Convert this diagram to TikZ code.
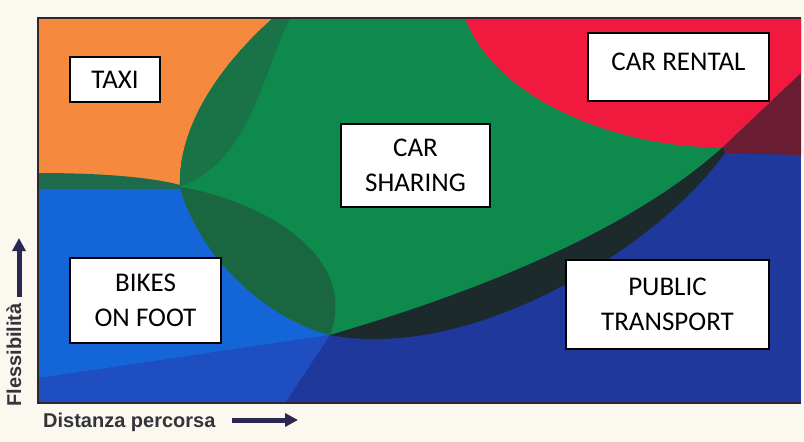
\documentclass[tikz,border=0pt]{standalone}
\usepackage{fontspec}
\setmainfont{Carlito}
\newfontfamily\axisfont{Liberation Sans}
\usetikzlibrary{arrows.meta}
\definecolor{cream}{HTML}{FAF8EF}
\definecolor{taxiorange}{HTML}{F58A3E}
\definecolor{sharegreen}{HTML}{0E8A4D}
\definecolor{crescentgreen}{HTML}{1A7347}
\definecolor{lensgreen}{HTML}{196641}
\definecolor{stripgreen}{HTML}{1E6A4C}
\definecolor{rentalred}{HTML}{F2193F}
\definecolor{overlapred}{HTML}{6A1C33}
\definecolor{bikeblue}{HTML}{1466D8}
\definecolor{footblue}{HTML}{1F4EC0}
\definecolor{publicblue}{HTML}{1F389C}
\definecolor{darkband}{HTML}{1C2A2B}
\definecolor{framecol}{HTML}{30262E}
\definecolor{axisnavy}{HTML}{2A2850}
\definecolor{axisgrey}{HTML}{33333A}

\begin{document}
\begin{tikzpicture}[x=1pt,y=-1pt,box/.style={draw=black,fill=white,line width=1.2pt,inner sep=0pt,align=center,font=\fontsize{27}{35}\selectfont},axlabel/.style={font=\axisfont\bfseries\fontsize{20}{24}\selectfont,text=axisgrey,inner sep=0pt},axarrow/.style={line width=5pt,draw=axisnavy,-{Triangle[length=13pt,width=13pt]}}]
\fill[cream] (0,0) rectangle (804,442);
% regions, back to front
\fill[publicblue] (38,18) rectangle (801,403);
\fill[footblue] (38,378) .. controls (150,362) and (260,345) .. (330,335) -- (285,403) -- (38,403) -- cycle;
\fill[bikeblue] (38,186) -- (180,187) .. controls (200,260) and (270,320) .. (330,335) .. controls (260,345) and (150,362) .. (38,378) -- cycle;
\fill[taxiorange] (38,18) -- (273,18) .. controls (215,70) and (178,130) .. (180,187) -- (38,187) -- cycle;
\fill[stripgreen] (38,173) .. controls (100,173) and (150,177) .. (180,185) -- (180,189) -- (38,189) -- cycle;
\fill[sharegreen] (273,18) -- (801,18) -- (801,73) -- (723,147) .. controls (620,240) and (450,300) .. (330,335) .. controls (270,320) and (200,260) .. (180,187) .. controls (178,130) and (215,70) .. (273,18) -- cycle;
\fill[crescentgreen] (273,18) -- (290,18) .. controls (260,80) and (250,160) .. (180,187) .. controls (178,130) and (215,70) .. (273,18) -- cycle;
\fill[lensgreen] (180,187) .. controls (260,200) and (360,255) .. (330,335) .. controls (270,320) and (200,260) .. (180,187) -- cycle;
\fill[darkband] (330,335) .. controls (450,300) and (620,240) .. (723,147) -- (725,153) .. controls (655,250) and (470,362) .. (330,335) -- cycle;
\fill[rentalred] (465,18) -- (801,18) -- (801,73) -- (723,147) .. controls (640,150) and (500,110) .. (465,18) -- cycle;
\fill[overlapred] (723,147) -- (801,73) -- (801,155) -- (725,153) -- cycle;
\draw[framecol,line width=2pt] (801,18) -- (38,18) -- (38,403) -- (801,403);
% labels
\node[box,minimum width=90pt,minimum height=45pt] (taxi) at (115,79.5) {TAXI};
\node[box,minimum width=181pt,minimum height=68pt,text height=37pt,text depth=31pt] (rental) at (678.5,67) {CAR RENTAL};
\node[box,minimum width=149pt,minimum height=83pt] (sharing) at (415.5,165.5) {CAR\\SHARING};
\node[box,minimum width=151pt,minimum height=85pt] (bikes) at (145.5,300.5) {BIKES\\ON FOOT};
\node[box,minimum width=203pt,minimum height=89pt] (public) at (667.5,304.5) {PUBLIC\\TRANSPORT};
% axes
\node[axlabel,rotate=90] (flex) at (14,355) {Flessibilità};
\node[axlabel,anchor=west] (dist) at (43,422) {Distanza percorsa};
\coordinate (ylow) at (19,297); \coordinate (yhigh) at (19,238);
\coordinate (xlow) at (232,420); \coordinate (xhigh) at (298,420);
\draw[axarrow] (ylow) -- (yhigh); \draw[axarrow] (xlow) -- (xhigh);
\end{tikzpicture}
\end{document}
